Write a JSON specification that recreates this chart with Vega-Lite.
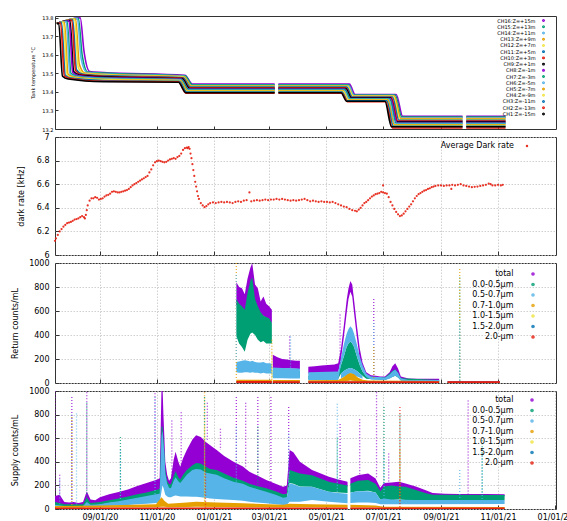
{
"$schema":"https://vega.github.io/schema/vega-lite/v6.json",
"background":"white",
"padding":{"left":11,"top":14,"right":0,"bottom":0},
"autosize":{"type":"pad"},
"config":{
 "font":"DejaVu Sans",
 "view":{"stroke":"#333","strokeWidth":1},
 "axis":{"labelFont":"DejaVu Sans","titleFont":"DejaVu Sans","labelColor":"#000","titleColor":"#000","titleFontWeight":"normal","labelFontSize":8,"titleFontSize":8,"domain":false,"tickColor":"#333","gridColor":"#c4c4c4","gridDash":[1.5,1.5],"gridWidth":0.8,"labelOverlap":false},
 "legend":{"labelFont":"DejaVu Sans","labelColor":"#000","labelFontSize":8,"padding":0,"symbolType":"circle","symbolStrokeWidth":1.2,"labelAlign":"right"}
},
"datasets":{
"temp":[
{"ch":"CH16:Z=+15m","d":"2020-07-17","v":13.77},{"ch":"CH16:Z=+15m","d":"2020-08-11","v":13.8},{"ch":"CH16:Z=+15m","d":"2020-08-15","v":13.62},{"ch":"CH16:Z=+15m","d":"2020-08-21","v":13.51},{"ch":"CH16:Z=+15m","d":"2020-09-05","v":13.505},{"ch":"CH16:Z=+15m","d":"2020-12-01","v":13.49},{"ch":"CH16:Z=+15m","d":"2020-12-09","v":13.442},{"ch":"CH16:Z=+15m","d":"2021-03-07","v":13.442},{"ch":"CH16:Z=+15m","d":"2021-03-09","v":null},{"ch":"CH16:Z=+15m","d":"2021-03-11","v":13.442},{"ch":"CH16:Z=+15m","d":"2021-05-26","v":13.442},{"ch":"CH16:Z=+15m","d":"2021-06-01","v":13.386},{"ch":"CH16:Z=+15m","d":"2021-07-15","v":13.386},{"ch":"CH16:Z=+15m","d":"2021-07-22","v":13.268},{"ch":"CH16:Z=+15m","d":"2021-09-24","v":13.268},{"ch":"CH16:Z=+15m","d":"2021-09-26","v":null},{"ch":"CH16:Z=+15m","d":"2021-09-28","v":13.268},{"ch":"CH16:Z=+15m","d":"2021-11-09","v":13.268},
{"ch":"CH15:Z=+13m","d":"2020-07-17","v":13.77},{"ch":"CH15:Z=+13m","d":"2020-08-09","v":13.798},{"ch":"CH15:Z=+13m","d":"2020-08-13","v":13.6},{"ch":"CH15:Z=+13m","d":"2020-08-19","v":13.507},{"ch":"CH15:Z=+13m","d":"2020-09-05","v":13.502},{"ch":"CH15:Z=+13m","d":"2020-12-01","v":13.487},{"ch":"CH15:Z=+13m","d":"2020-12-09","v":13.439},{"ch":"CH15:Z=+13m","d":"2021-03-07","v":13.439},{"ch":"CH15:Z=+13m","d":"2021-03-09","v":null},{"ch":"CH15:Z=+13m","d":"2021-03-11","v":13.439},{"ch":"CH15:Z=+13m","d":"2021-05-25","v":13.439},{"ch":"CH15:Z=+13m","d":"2021-05-31","v":13.383},{"ch":"CH15:Z=+13m","d":"2021-07-14","v":13.383},{"ch":"CH15:Z=+13m","d":"2021-07-21","v":13.264},{"ch":"CH15:Z=+13m","d":"2021-09-24","v":13.264},{"ch":"CH15:Z=+13m","d":"2021-09-26","v":null},{"ch":"CH15:Z=+13m","d":"2021-09-28","v":13.264},{"ch":"CH15:Z=+13m","d":"2021-11-09","v":13.264},
{"ch":"CH14:Z=+11m","d":"2020-07-17","v":13.77},{"ch":"CH14:Z=+11m","d":"2020-08-08","v":13.796},{"ch":"CH14:Z=+11m","d":"2020-08-12","v":13.58},{"ch":"CH14:Z=+11m","d":"2020-08-18","v":13.505},{"ch":"CH14:Z=+11m","d":"2020-09-05","v":13.498},{"ch":"CH14:Z=+11m","d":"2020-11-30","v":13.485},{"ch":"CH14:Z=+11m","d":"2020-12-08","v":13.435},{"ch":"CH14:Z=+11m","d":"2021-03-07","v":13.435},{"ch":"CH14:Z=+11m","d":"2021-03-09","v":null},{"ch":"CH14:Z=+11m","d":"2021-03-11","v":13.435},{"ch":"CH14:Z=+11m","d":"2021-05-25","v":13.435},{"ch":"CH14:Z=+11m","d":"2021-05-31","v":13.381},{"ch":"CH14:Z=+11m","d":"2021-07-13","v":13.381},{"ch":"CH14:Z=+11m","d":"2021-07-20","v":13.26},{"ch":"CH14:Z=+11m","d":"2021-09-24","v":13.26},{"ch":"CH14:Z=+11m","d":"2021-09-26","v":null},{"ch":"CH14:Z=+11m","d":"2021-09-28","v":13.26},{"ch":"CH14:Z=+11m","d":"2021-11-09","v":13.26},
{"ch":"CH13:Z=+9m","d":"2020-07-17","v":13.77},{"ch":"CH13:Z=+9m","d":"2020-08-06","v":13.794},{"ch":"CH13:Z=+9m","d":"2020-08-10","v":13.55},{"ch":"CH13:Z=+9m","d":"2020-08-16","v":13.502},{"ch":"CH13:Z=+9m","d":"2020-09-05","v":13.495},{"ch":"CH13:Z=+9m","d":"2020-11-30","v":13.482},{"ch":"CH13:Z=+9m","d":"2020-12-08","v":13.432},{"ch":"CH13:Z=+9m","d":"2021-03-07","v":13.432},{"ch":"CH13:Z=+9m","d":"2021-03-09","v":null},{"ch":"CH13:Z=+9m","d":"2021-03-11","v":13.432},{"ch":"CH13:Z=+9m","d":"2021-05-24","v":13.432},{"ch":"CH13:Z=+9m","d":"2021-05-30","v":13.378},{"ch":"CH13:Z=+9m","d":"2021-07-13","v":13.378},{"ch":"CH13:Z=+9m","d":"2021-07-20","v":13.256},{"ch":"CH13:Z=+9m","d":"2021-09-24","v":13.256},{"ch":"CH13:Z=+9m","d":"2021-09-26","v":null},{"ch":"CH13:Z=+9m","d":"2021-09-28","v":13.256},{"ch":"CH13:Z=+9m","d":"2021-11-09","v":13.256},
{"ch":"CH12:Z=+7m","d":"2020-07-17","v":13.77},{"ch":"CH12:Z=+7m","d":"2020-08-05","v":13.792},{"ch":"CH12:Z=+7m","d":"2020-08-09","v":13.53},{"ch":"CH12:Z=+7m","d":"2020-08-15","v":13.499},{"ch":"CH12:Z=+7m","d":"2020-09-05","v":13.492},{"ch":"CH12:Z=+7m","d":"2020-11-29","v":13.48},{"ch":"CH12:Z=+7m","d":"2020-12-07","v":13.429},{"ch":"CH12:Z=+7m","d":"2021-03-07","v":13.429},{"ch":"CH12:Z=+7m","d":"2021-03-09","v":null},{"ch":"CH12:Z=+7m","d":"2021-03-11","v":13.429},{"ch":"CH12:Z=+7m","d":"2021-05-24","v":13.429},{"ch":"CH12:Z=+7m","d":"2021-05-30","v":13.376},{"ch":"CH12:Z=+7m","d":"2021-07-12","v":13.376},{"ch":"CH12:Z=+7m","d":"2021-07-19","v":13.251},{"ch":"CH12:Z=+7m","d":"2021-09-24","v":13.251},{"ch":"CH12:Z=+7m","d":"2021-09-26","v":null},{"ch":"CH12:Z=+7m","d":"2021-09-28","v":13.251},{"ch":"CH12:Z=+7m","d":"2021-11-09","v":13.251},
{"ch":"CH11:Z=+5m","d":"2020-07-17","v":13.77},{"ch":"CH11:Z=+5m","d":"2020-08-03","v":13.79},{"ch":"CH11:Z=+5m","d":"2020-08-07","v":13.52},{"ch":"CH11:Z=+5m","d":"2020-08-13","v":13.497},{"ch":"CH11:Z=+5m","d":"2020-09-05","v":13.488},{"ch":"CH11:Z=+5m","d":"2020-11-29","v":13.477},{"ch":"CH11:Z=+5m","d":"2020-12-07","v":13.426},{"ch":"CH11:Z=+5m","d":"2021-03-07","v":13.426},{"ch":"CH11:Z=+5m","d":"2021-03-09","v":null},{"ch":"CH11:Z=+5m","d":"2021-03-11","v":13.426},{"ch":"CH11:Z=+5m","d":"2021-05-23","v":13.426},{"ch":"CH11:Z=+5m","d":"2021-05-29","v":13.373},{"ch":"CH11:Z=+5m","d":"2021-07-11","v":13.373},{"ch":"CH11:Z=+5m","d":"2021-07-18","v":13.247},{"ch":"CH11:Z=+5m","d":"2021-09-24","v":13.247},{"ch":"CH11:Z=+5m","d":"2021-09-26","v":null},{"ch":"CH11:Z=+5m","d":"2021-09-28","v":13.247},{"ch":"CH11:Z=+5m","d":"2021-11-09","v":13.247},
{"ch":"CH10:Z=+3m","d":"2020-07-17","v":13.77},{"ch":"CH10:Z=+3m","d":"2020-08-02","v":13.788},{"ch":"CH10:Z=+3m","d":"2020-08-06","v":13.515},{"ch":"CH10:Z=+3m","d":"2020-08-12","v":13.494},{"ch":"CH10:Z=+3m","d":"2020-09-05","v":13.485},{"ch":"CH10:Z=+3m","d":"2020-11-28","v":13.475},{"ch":"CH10:Z=+3m","d":"2020-12-06","v":13.422},{"ch":"CH10:Z=+3m","d":"2021-03-07","v":13.422},{"ch":"CH10:Z=+3m","d":"2021-03-09","v":null},{"ch":"CH10:Z=+3m","d":"2021-03-11","v":13.422},{"ch":"CH10:Z=+3m","d":"2021-05-22","v":13.422},{"ch":"CH10:Z=+3m","d":"2021-05-28","v":13.37},{"ch":"CH10:Z=+3m","d":"2021-07-10","v":13.37},{"ch":"CH10:Z=+3m","d":"2021-07-17","v":13.243},{"ch":"CH10:Z=+3m","d":"2021-09-24","v":13.243},{"ch":"CH10:Z=+3m","d":"2021-09-26","v":null},{"ch":"CH10:Z=+3m","d":"2021-09-28","v":13.243},{"ch":"CH10:Z=+3m","d":"2021-11-09","v":13.243},
{"ch":"CH9:Z=+1m","d":"2020-07-17","v":13.77},{"ch":"CH9:Z=+1m","d":"2020-07-31","v":13.786},{"ch":"CH9:Z=+1m","d":"2020-08-04","v":13.51},{"ch":"CH9:Z=+1m","d":"2020-08-10","v":13.491},{"ch":"CH9:Z=+1m","d":"2020-09-05","v":13.482},{"ch":"CH9:Z=+1m","d":"2020-11-28","v":13.472},{"ch":"CH9:Z=+1m","d":"2020-12-06","v":13.419},{"ch":"CH9:Z=+1m","d":"2021-03-07","v":13.419},{"ch":"CH9:Z=+1m","d":"2021-03-09","v":null},{"ch":"CH9:Z=+1m","d":"2021-03-11","v":13.419},{"ch":"CH9:Z=+1m","d":"2021-05-22","v":13.419},{"ch":"CH9:Z=+1m","d":"2021-05-28","v":13.368},{"ch":"CH9:Z=+1m","d":"2021-07-09","v":13.368},{"ch":"CH9:Z=+1m","d":"2021-07-16","v":13.239},{"ch":"CH9:Z=+1m","d":"2021-09-24","v":13.239},{"ch":"CH9:Z=+1m","d":"2021-09-26","v":null},{"ch":"CH9:Z=+1m","d":"2021-09-28","v":13.239},{"ch":"CH9:Z=+1m","d":"2021-11-09","v":13.239},
{"ch":"CH8:Z=-1m","d":"2020-07-17","v":13.77},{"ch":"CH8:Z=-1m","d":"2020-07-30","v":13.784},{"ch":"CH8:Z=-1m","d":"2020-08-03","v":13.505},{"ch":"CH8:Z=-1m","d":"2020-08-09","v":13.489},{"ch":"CH8:Z=-1m","d":"2020-09-05","v":13.478},{"ch":"CH8:Z=-1m","d":"2020-11-27","v":13.47},{"ch":"CH8:Z=-1m","d":"2020-12-05","v":13.416},{"ch":"CH8:Z=-1m","d":"2021-03-07","v":13.416},{"ch":"CH8:Z=-1m","d":"2021-03-09","v":null},{"ch":"CH8:Z=-1m","d":"2021-03-11","v":13.416},{"ch":"CH8:Z=-1m","d":"2021-05-21","v":13.416},{"ch":"CH8:Z=-1m","d":"2021-05-27","v":13.365},{"ch":"CH8:Z=-1m","d":"2021-07-09","v":13.365},{"ch":"CH8:Z=-1m","d":"2021-07-16","v":13.235},{"ch":"CH8:Z=-1m","d":"2021-09-24","v":13.235},{"ch":"CH8:Z=-1m","d":"2021-09-26","v":null},{"ch":"CH8:Z=-1m","d":"2021-09-28","v":13.235},{"ch":"CH8:Z=-1m","d":"2021-11-09","v":13.235},
{"ch":"CH7:Z=-3m","d":"2020-07-17","v":13.77},{"ch":"CH7:Z=-3m","d":"2020-07-28","v":13.782},{"ch":"CH7:Z=-3m","d":"2020-08-01","v":13.5},{"ch":"CH7:Z=-3m","d":"2020-08-07","v":13.486},{"ch":"CH7:Z=-3m","d":"2020-09-05","v":13.475},{"ch":"CH7:Z=-3m","d":"2020-11-27","v":13.467},{"ch":"CH7:Z=-3m","d":"2020-12-05","v":13.413},{"ch":"CH7:Z=-3m","d":"2021-03-07","v":13.413},{"ch":"CH7:Z=-3m","d":"2021-03-09","v":null},{"ch":"CH7:Z=-3m","d":"2021-03-11","v":13.413},{"ch":"CH7:Z=-3m","d":"2021-05-21","v":13.413},{"ch":"CH7:Z=-3m","d":"2021-05-27","v":13.363},{"ch":"CH7:Z=-3m","d":"2021-07-08","v":13.363},{"ch":"CH7:Z=-3m","d":"2021-07-15","v":13.231},{"ch":"CH7:Z=-3m","d":"2021-09-24","v":13.231},{"ch":"CH7:Z=-3m","d":"2021-09-26","v":null},{"ch":"CH7:Z=-3m","d":"2021-09-28","v":13.231},{"ch":"CH7:Z=-3m","d":"2021-11-09","v":13.231},
{"ch":"CH6:Z=-5m","d":"2020-07-17","v":13.77},{"ch":"CH6:Z=-5m","d":"2020-07-27","v":13.78},{"ch":"CH6:Z=-5m","d":"2020-07-31","v":13.5},{"ch":"CH6:Z=-5m","d":"2020-08-06","v":13.483},{"ch":"CH6:Z=-5m","d":"2020-09-05","v":13.472},{"ch":"CH6:Z=-5m","d":"2020-11-26","v":13.465},{"ch":"CH6:Z=-5m","d":"2020-12-04","v":13.409},{"ch":"CH6:Z=-5m","d":"2021-03-07","v":13.409},{"ch":"CH6:Z=-5m","d":"2021-03-09","v":null},{"ch":"CH6:Z=-5m","d":"2021-03-11","v":13.409},{"ch":"CH6:Z=-5m","d":"2021-05-20","v":13.409},{"ch":"CH6:Z=-5m","d":"2021-05-26","v":13.36},{"ch":"CH6:Z=-5m","d":"2021-07-07","v":13.36},{"ch":"CH6:Z=-5m","d":"2021-07-14","v":13.227},{"ch":"CH6:Z=-5m","d":"2021-09-24","v":13.227},{"ch":"CH6:Z=-5m","d":"2021-09-26","v":null},{"ch":"CH6:Z=-5m","d":"2021-09-28","v":13.227},{"ch":"CH6:Z=-5m","d":"2021-11-09","v":13.227},
{"ch":"CH5:Z=-7m","d":"2020-07-17","v":13.77},{"ch":"CH5:Z=-7m","d":"2020-07-25","v":13.778},{"ch":"CH5:Z=-7m","d":"2020-07-29","v":13.495},{"ch":"CH5:Z=-7m","d":"2020-08-04","v":13.481},{"ch":"CH5:Z=-7m","d":"2020-09-05","v":13.468},{"ch":"CH5:Z=-7m","d":"2020-11-26","v":13.462},{"ch":"CH5:Z=-7m","d":"2020-12-04","v":13.406},{"ch":"CH5:Z=-7m","d":"2021-03-07","v":13.406},{"ch":"CH5:Z=-7m","d":"2021-03-09","v":null},{"ch":"CH5:Z=-7m","d":"2021-03-11","v":13.406},{"ch":"CH5:Z=-7m","d":"2021-05-19","v":13.406},{"ch":"CH5:Z=-7m","d":"2021-05-25","v":13.357},{"ch":"CH5:Z=-7m","d":"2021-07-06","v":13.357},{"ch":"CH5:Z=-7m","d":"2021-07-13","v":13.223},{"ch":"CH5:Z=-7m","d":"2021-09-24","v":13.223},{"ch":"CH5:Z=-7m","d":"2021-09-26","v":null},{"ch":"CH5:Z=-7m","d":"2021-09-28","v":13.223},{"ch":"CH5:Z=-7m","d":"2021-11-09","v":13.223},
{"ch":"CH4:Z=-9m","d":"2020-07-17","v":13.77},{"ch":"CH4:Z=-9m","d":"2020-07-24","v":13.776},{"ch":"CH4:Z=-9m","d":"2020-07-28","v":13.49},{"ch":"CH4:Z=-9m","d":"2020-08-03","v":13.478},{"ch":"CH4:Z=-9m","d":"2020-09-05","v":13.465},{"ch":"CH4:Z=-9m","d":"2020-11-25","v":13.46},{"ch":"CH4:Z=-9m","d":"2020-12-03","v":13.403},{"ch":"CH4:Z=-9m","d":"2021-03-07","v":13.403},{"ch":"CH4:Z=-9m","d":"2021-03-09","v":null},{"ch":"CH4:Z=-9m","d":"2021-03-11","v":13.403},{"ch":"CH4:Z=-9m","d":"2021-05-19","v":13.403},{"ch":"CH4:Z=-9m","d":"2021-05-25","v":13.355},{"ch":"CH4:Z=-9m","d":"2021-07-05","v":13.355},{"ch":"CH4:Z=-9m","d":"2021-07-12","v":13.218},{"ch":"CH4:Z=-9m","d":"2021-09-24","v":13.218},{"ch":"CH4:Z=-9m","d":"2021-09-26","v":null},{"ch":"CH4:Z=-9m","d":"2021-09-28","v":13.218},{"ch":"CH4:Z=-9m","d":"2021-11-09","v":13.218},
{"ch":"CH3:Z=-11m","d":"2020-07-17","v":13.77},{"ch":"CH3:Z=-11m","d":"2020-07-22","v":13.774},{"ch":"CH3:Z=-11m","d":"2020-07-26","v":13.49},{"ch":"CH3:Z=-11m","d":"2020-08-01","v":13.475},{"ch":"CH3:Z=-11m","d":"2020-09-05","v":13.462},{"ch":"CH3:Z=-11m","d":"2020-11-25","v":13.457},{"ch":"CH3:Z=-11m","d":"2020-12-03","v":13.399},{"ch":"CH3:Z=-11m","d":"2021-03-07","v":13.399},{"ch":"CH3:Z=-11m","d":"2021-03-09","v":null},{"ch":"CH3:Z=-11m","d":"2021-03-11","v":13.399},{"ch":"CH3:Z=-11m","d":"2021-05-18","v":13.399},{"ch":"CH3:Z=-11m","d":"2021-05-24","v":13.352},{"ch":"CH3:Z=-11m","d":"2021-07-05","v":13.352},{"ch":"CH3:Z=-11m","d":"2021-07-12","v":13.214},{"ch":"CH3:Z=-11m","d":"2021-09-24","v":13.214},{"ch":"CH3:Z=-11m","d":"2021-09-26","v":null},{"ch":"CH3:Z=-11m","d":"2021-09-28","v":13.214},{"ch":"CH3:Z=-11m","d":"2021-11-09","v":13.214},
{"ch":"CH2:Z=-13m","d":"2020-07-17","v":13.77},{"ch":"CH2:Z=-13m","d":"2020-07-21","v":13.772},{"ch":"CH2:Z=-13m","d":"2020-07-25","v":13.485},{"ch":"CH2:Z=-13m","d":"2020-07-31","v":13.473},{"ch":"CH2:Z=-13m","d":"2020-09-05","v":13.458},{"ch":"CH2:Z=-13m","d":"2020-11-24","v":13.455},{"ch":"CH2:Z=-13m","d":"2020-12-02","v":13.393},{"ch":"CH2:Z=-13m","d":"2021-03-07","v":13.393},{"ch":"CH2:Z=-13m","d":"2021-03-09","v":null},{"ch":"CH2:Z=-13m","d":"2021-03-11","v":13.393},{"ch":"CH2:Z=-13m","d":"2021-05-18","v":13.393},{"ch":"CH2:Z=-13m","d":"2021-05-24","v":13.347},{"ch":"CH2:Z=-13m","d":"2021-07-04","v":13.347},{"ch":"CH2:Z=-13m","d":"2021-07-11","v":13.205},{"ch":"CH2:Z=-13m","d":"2021-09-24","v":13.205},{"ch":"CH2:Z=-13m","d":"2021-09-26","v":null},{"ch":"CH2:Z=-13m","d":"2021-09-28","v":13.205},{"ch":"CH2:Z=-13m","d":"2021-11-09","v":13.205},
{"ch":"CH1:Z=-15m","d":"2020-07-17","v":13.77},{"ch":"CH1:Z=-15m","d":"2020-07-19","v":13.77},{"ch":"CH1:Z=-15m","d":"2020-07-23","v":13.485},{"ch":"CH1:Z=-15m","d":"2020-07-29","v":13.47},{"ch":"CH1:Z=-15m","d":"2020-09-05","v":13.455},{"ch":"CH1:Z=-15m","d":"2020-11-24","v":13.452},{"ch":"CH1:Z=-15m","d":"2020-12-02","v":13.396},{"ch":"CH1:Z=-15m","d":"2021-03-07","v":13.396},{"ch":"CH1:Z=-15m","d":"2021-03-09","v":null},{"ch":"CH1:Z=-15m","d":"2021-03-11","v":13.396},{"ch":"CH1:Z=-15m","d":"2021-05-17","v":13.396},{"ch":"CH1:Z=-15m","d":"2021-05-23","v":13.35},{"ch":"CH1:Z=-15m","d":"2021-07-03","v":13.35},{"ch":"CH1:Z=-15m","d":"2021-07-10","v":13.212},{"ch":"CH1:Z=-15m","d":"2021-09-24","v":13.212},{"ch":"CH1:Z=-15m","d":"2021-09-26","v":null},{"ch":"CH1:Z=-15m","d":"2021-09-28","v":13.212},{"ch":"CH1:Z=-15m","d":"2021-11-09","v":13.212}
],
"dark":[
{"d":"2020-07-15","r":6.12},{"d":"2020-07-16","r":6.14},{"d":"2020-07-18","r":6.17},{"d":"2020-07-20","r":6.2},{"d":"2020-07-22","r":6.22},{"d":"2020-07-24","r":6.24},{"d":"2020-07-26","r":6.255},{"d":"2020-07-28","r":6.27},{"d":"2020-07-30","r":6.275},{"d":"2020-08-01","r":6.28},{"d":"2020-08-03","r":6.29},{"d":"2020-08-05","r":6.3},{"d":"2020-08-07","r":6.305},{"d":"2020-08-09","r":6.31},{"d":"2020-08-11","r":6.32},{"d":"2020-08-13","r":6.33},{"d":"2020-08-15","r":6.32},{"d":"2020-08-16","r":6.31},{"d":"2020-08-17","r":6.34},{"d":"2020-08-18","r":6.38},{"d":"2020-08-19","r":6.42},{"d":"2020-08-21","r":6.46},{"d":"2020-08-23","r":6.48},{"d":"2020-08-25","r":6.48},{"d":"2020-08-27","r":6.49},{"d":"2020-08-29","r":6.485},{"d":"2020-08-31","r":6.47},{"d":"2020-09-02","r":6.475},{"d":"2020-09-04","r":6.48},{"d":"2020-09-06","r":6.495},{"d":"2020-09-08","r":6.505},{"d":"2020-09-10","r":6.51},{"d":"2020-09-12","r":6.52},{"d":"2020-09-14","r":6.535},{"d":"2020-09-16","r":6.54},{"d":"2020-09-18","r":6.535},{"d":"2020-09-20","r":6.53},{"d":"2020-09-22","r":6.53},{"d":"2020-09-24","r":6.535},{"d":"2020-09-26","r":6.54},{"d":"2020-09-28","r":6.545},{"d":"2020-09-30","r":6.55},{"d":"2020-10-02","r":6.56},{"d":"2020-10-04","r":6.575},{"d":"2020-10-06","r":6.59},{"d":"2020-10-08","r":6.6},{"d":"2020-10-10","r":6.61},{"d":"2020-10-12","r":6.62},{"d":"2020-10-14","r":6.63},{"d":"2020-10-16","r":6.64},{"d":"2020-10-18","r":6.65},{"d":"2020-10-20","r":6.66},{"d":"2020-10-22","r":6.67},{"d":"2020-10-24","r":6.7},{"d":"2020-10-26","r":6.725},{"d":"2020-10-28","r":6.76},{"d":"2020-10-30","r":6.785},{"d":"2020-11-01","r":6.795},{"d":"2020-11-03","r":6.8},{"d":"2020-11-05","r":6.795},{"d":"2020-11-07","r":6.79},{"d":"2020-11-09","r":6.785},{"d":"2020-11-11","r":6.79},{"d":"2020-11-13","r":6.8},{"d":"2020-11-15","r":6.81},{"d":"2020-11-17","r":6.815},{"d":"2020-11-19","r":6.82},{"d":"2020-11-21","r":6.815},{"d":"2020-11-23","r":6.83},{"d":"2020-11-25","r":6.84},{"d":"2020-11-27","r":6.86},{"d":"2020-11-29","r":6.89},{"d":"2020-12-01","r":6.905},{"d":"2020-12-03","r":6.91},{"d":"2020-12-04","r":6.905},{"d":"2020-12-05","r":6.915},{"d":"2020-12-06","r":6.9},{"d":"2020-12-07","r":6.86},{"d":"2020-12-08","r":6.82},{"d":"2020-12-09","r":6.77},{"d":"2020-12-10","r":6.72},{"d":"2020-12-11","r":6.67},{"d":"2020-12-12","r":6.62},{"d":"2020-12-13","r":6.58},{"d":"2020-12-14","r":6.54},{"d":"2020-12-15","r":6.5},{"d":"2020-12-16","r":6.475},{"d":"2020-12-18","r":6.44},{"d":"2020-12-20","r":6.42},{"d":"2020-12-22","r":6.405},{"d":"2020-12-24","r":6.415},{"d":"2020-12-26","r":6.43},{"d":"2020-12-28","r":6.44},{"d":"2020-12-31","r":6.445},{"d":"2021-01-03","r":6.44},{"d":"2021-01-06","r":6.445},{"d":"2021-01-09","r":6.45},{"d":"2021-01-12","r":6.445},{"d":"2021-01-15","r":6.45},{"d":"2021-01-18","r":6.445},{"d":"2021-01-21","r":6.44},{"d":"2021-01-24","r":6.45},{"d":"2021-01-27","r":6.455},{"d":"2021-01-30","r":6.45},{"d":"2021-02-02","r":6.46},{"d":"2021-02-05","r":6.465},{"d":"2021-02-08","r":6.53},{"d":"2021-02-10","r":6.455},{"d":"2021-02-13","r":6.46},{"d":"2021-02-16","r":6.465},{"d":"2021-02-19","r":6.46},{"d":"2021-02-22","r":6.465},{"d":"2021-02-25","r":6.47},{"d":"2021-02-28","r":6.465},{"d":"2021-03-03","r":6.47},{"d":"2021-03-06","r":6.47},{"d":"2021-03-09","r":6.475},{"d":"2021-03-12","r":6.47},{"d":"2021-03-15","r":6.475},{"d":"2021-03-18","r":6.47},{"d":"2021-03-21","r":6.465},{"d":"2021-03-24","r":6.46},{"d":"2021-03-27","r":6.465},{"d":"2021-03-30","r":6.46},{"d":"2021-04-02","r":6.465},{"d":"2021-04-05","r":6.47},{"d":"2021-04-08","r":6.475},{"d":"2021-04-11","r":6.465},{"d":"2021-04-14","r":6.455},{"d":"2021-04-17","r":6.46},{"d":"2021-04-20","r":6.455},{"d":"2021-04-23","r":6.45},{"d":"2021-04-26","r":6.455},{"d":"2021-04-29","r":6.45},{"d":"2021-05-02","r":6.45},{"d":"2021-05-05","r":6.445},{"d":"2021-05-08","r":6.45},{"d":"2021-05-11","r":6.44},{"d":"2021-05-14","r":6.43},{"d":"2021-05-17","r":6.42},{"d":"2021-05-20","r":6.41},{"d":"2021-05-23","r":6.405},{"d":"2021-05-26","r":6.39},{"d":"2021-05-29","r":6.38},{"d":"2021-06-01","r":6.375},{"d":"2021-06-03","r":6.37},{"d":"2021-06-05","r":6.385},{"d":"2021-06-07","r":6.4},{"d":"2021-06-09","r":6.42},{"d":"2021-06-11","r":6.44},{"d":"2021-06-13","r":6.45},{"d":"2021-06-15","r":6.465},{"d":"2021-06-17","r":6.48},{"d":"2021-06-19","r":6.495},{"d":"2021-06-21","r":6.505},{"d":"2021-06-23","r":6.515},{"d":"2021-06-25","r":6.52},{"d":"2021-06-27","r":6.525},{"d":"2021-06-29","r":6.535},{"d":"2021-07-01","r":6.53},{"d":"2021-07-01","r":6.59},{"d":"2021-07-03","r":6.525},{"d":"2021-07-05","r":6.52},{"d":"2021-07-07","r":6.49},{"d":"2021-07-09","r":6.45},{"d":"2021-07-11","r":6.42},{"d":"2021-07-13","r":6.39},{"d":"2021-07-15","r":6.365},{"d":"2021-07-17","r":6.345},{"d":"2021-07-19","r":6.33},{"d":"2021-07-21","r":6.335},{"d":"2021-07-23","r":6.35},{"d":"2021-07-25","r":6.37},{"d":"2021-07-27","r":6.39},{"d":"2021-07-29","r":6.41},{"d":"2021-07-31","r":6.43},{"d":"2021-08-02","r":6.455},{"d":"2021-08-04","r":6.48},{"d":"2021-08-06","r":6.5},{"d":"2021-08-08","r":6.515},{"d":"2021-08-10","r":6.525},{"d":"2021-08-12","r":6.535},{"d":"2021-08-14","r":6.545},{"d":"2021-08-16","r":6.55},{"d":"2021-08-18","r":6.56},{"d":"2021-08-20","r":6.565},{"d":"2021-08-22","r":6.575},{"d":"2021-08-24","r":6.58},{"d":"2021-08-26","r":6.585},{"d":"2021-08-29","r":6.59},{"d":"2021-09-01","r":6.59},{"d":"2021-09-04","r":6.585},{"d":"2021-09-07","r":6.59},{"d":"2021-09-10","r":6.59},{"d":"2021-09-12","r":6.56},{"d":"2021-09-13","r":6.595},{"d":"2021-09-16","r":6.59},{"d":"2021-09-19","r":6.595},{"d":"2021-09-22","r":6.6},{"d":"2021-09-25","r":6.59},{"d":"2021-09-28","r":6.585},{"d":"2021-10-01","r":6.58},{"d":"2021-10-04","r":6.575},{"d":"2021-10-07","r":6.578},{"d":"2021-10-10","r":6.58},{"d":"2021-10-13","r":6.585},{"d":"2021-10-16","r":6.59},{"d":"2021-10-19","r":6.595},{"d":"2021-10-22","r":6.605},{"d":"2021-10-24","r":6.6},{"d":"2021-10-26","r":6.59},{"d":"2021-10-29","r":6.59},{"d":"2021-11-01","r":6.595},{"d":"2021-11-04","r":6.59},{"d":"2021-11-06","r":6.595}
],
"ret":[
{"s":"total","g":"a","d":"2021-01-25","lo":650,"hi":840},{"s":"total","g":"a","d":"2021-01-28","lo":620,"hi":800},{"s":"total","g":"a","d":"2021-01-31","lo":600,"hi":790},{"s":"total","g":"a","d":"2021-02-03","lo":560,"hi":740},{"s":"total","g":"a","d":"2021-02-06","lo":680,"hi":870},{"s":"total","g":"a","d":"2021-02-09","lo":720,"hi":960},{"s":"total","g":"a","d":"2021-02-11","lo":700,"hi":1000},{"s":"total","g":"a","d":"2021-02-14","lo":640,"hi":820},{"s":"total","g":"a","d":"2021-02-17","lo":620,"hi":790},{"s":"total","g":"a","d":"2021-02-20","lo":560,"hi":680},{"s":"total","g":"a","d":"2021-02-23","lo":560,"hi":720},{"s":"total","g":"a","d":"2021-02-26","lo":540,"hi":660},{"s":"total","g":"a","d":"2021-03-01","lo":520,"hi":640},{"s":"total","g":"a","d":"2021-03-04","lo":500,"hi":610},
{"s":"total","g":"b","d":"2021-03-05","lo":120,"hi":235},{"s":"total","g":"b","d":"2021-03-10","lo":120,"hi":215},{"s":"total","g":"b","d":"2021-03-15","lo":118,"hi":200},{"s":"total","g":"b","d":"2021-03-20","lo":120,"hi":195},{"s":"total","g":"b","d":"2021-03-25","lo":120,"hi":190},{"s":"total","g":"b","d":"2021-03-30","lo":118,"hi":185},{"s":"total","g":"b","d":"2021-04-03","lo":115,"hi":185},
{"s":"total","g":"c","d":"2021-04-12","lo":80,"hi":135},{"s":"total","g":"c","d":"2021-04-19","lo":80,"hi":140},{"s":"total","g":"c","d":"2021-04-26","lo":82,"hi":145},{"s":"total","g":"c","d":"2021-05-03","lo":85,"hi":150},{"s":"total","g":"c","d":"2021-05-10","lo":85,"hi":155},{"s":"total","g":"c","d":"2021-05-14","lo":90,"hi":165},{"s":"total","g":"c","d":"2021-05-17","lo":200,"hi":290},{"s":"total","g":"c","d":"2021-05-20","lo":380,"hi":480},{"s":"total","g":"c","d":"2021-05-23","lo":580,"hi":690},{"s":"total","g":"c","d":"2021-05-25","lo":700,"hi":790},{"s":"total","g":"c","d":"2021-05-27","lo":760,"hi":850},{"s":"total","g":"c","d":"2021-05-29","lo":720,"hi":820},{"s":"total","g":"c","d":"2021-05-31","lo":580,"hi":690},{"s":"total","g":"c","d":"2021-06-03","lo":380,"hi":480},{"s":"total","g":"c","d":"2021-06-06","lo":200,"hi":290},{"s":"total","g":"c","d":"2021-06-09","lo":110,"hi":170},{"s":"total","g":"c","d":"2021-06-13","lo":60,"hi":90},{"s":"total","g":"c","d":"2021-06-18","lo":40,"hi":65},{"s":"total","g":"c","d":"2021-06-23","lo":35,"hi":60},{"s":"total","g":"c","d":"2021-06-28","lo":35,"hi":55},{"s":"total","g":"c","d":"2021-07-03","lo":35,"hi":55},{"s":"total","g":"c","d":"2021-07-08","lo":50,"hi":90},{"s":"total","g":"c","d":"2021-07-11","lo":80,"hi":140},{"s":"total","g":"c","d":"2021-07-14","lo":100,"hi":165},{"s":"total","g":"c","d":"2021-07-17","lo":70,"hi":120},{"s":"total","g":"c","d":"2021-07-20","lo":30,"hi":55},{"s":"total","g":"c","d":"2021-07-28","lo":20,"hi":38},{"s":"total","g":"c","d":"2021-08-07","lo":18,"hi":35},{"s":"total","g":"c","d":"2021-08-17","lo":18,"hi":35},{"s":"total","g":"c","d":"2021-08-30","lo":18,"hi":35},
{"s":"total","g":"d","d":"2021-09-08","lo":4,"hi":16},{"s":"total","g":"d","d":"2021-11-03","lo":4,"hi":16},
{"s":"0.0-0.5µm","g":"a","d":"2021-01-25","lo":390,"hi":700},{"s":"0.0-0.5µm","g":"a","d":"2021-01-28","lo":330,"hi":660},{"s":"0.0-0.5µm","g":"a","d":"2021-01-31","lo":300,"hi":640},{"s":"0.0-0.5µm","g":"a","d":"2021-02-03","lo":260,"hi":610},{"s":"0.0-0.5µm","g":"a","d":"2021-02-06","lo":360,"hi":750},{"s":"0.0-0.5µm","g":"a","d":"2021-02-09","lo":410,"hi":850},{"s":"0.0-0.5µm","g":"a","d":"2021-02-11","lo":420,"hi":880},{"s":"0.0-0.5µm","g":"a","d":"2021-02-14","lo":400,"hi":700},{"s":"0.0-0.5µm","g":"a","d":"2021-02-17","lo":360,"hi":640},{"s":"0.0-0.5µm","g":"a","d":"2021-02-20","lo":340,"hi":590},{"s":"0.0-0.5µm","g":"a","d":"2021-02-23","lo":350,"hi":560},{"s":"0.0-0.5µm","g":"a","d":"2021-02-26","lo":330,"hi":550},{"s":"0.0-0.5µm","g":"a","d":"2021-03-01","lo":330,"hi":540},{"s":"0.0-0.5µm","g":"a","d":"2021-03-04","lo":330,"hi":500},
{"s":"0.0-0.5µm","g":"b","d":"2021-03-05","lo":50,"hi":110},{"s":"0.0-0.5µm","g":"b","d":"2021-04-03","lo":45,"hi":100},
{"s":"0.0-0.5µm","g":"c","d":"2021-04-12","lo":30,"hi":60},{"s":"0.0-0.5µm","g":"c","d":"2021-05-14","lo":35,"hi":70},{"s":"0.0-0.5µm","g":"c","d":"2021-05-17","lo":80,"hi":150},{"s":"0.0-0.5µm","g":"c","d":"2021-05-20","lo":100,"hi":220},{"s":"0.0-0.5µm","g":"c","d":"2021-05-23","lo":115,"hi":300},{"s":"0.0-0.5µm","g":"c","d":"2021-05-25","lo":120,"hi":330},{"s":"0.0-0.5µm","g":"c","d":"2021-05-27","lo":125,"hi":345},{"s":"0.0-0.5µm","g":"c","d":"2021-05-29","lo":120,"hi":330},{"s":"0.0-0.5µm","g":"c","d":"2021-05-31","lo":115,"hi":300},{"s":"0.0-0.5µm","g":"c","d":"2021-06-03","lo":100,"hi":220},{"s":"0.0-0.5µm","g":"c","d":"2021-06-06","lo":80,"hi":150},{"s":"0.0-0.5µm","g":"c","d":"2021-06-09","lo":60,"hi":95},{"s":"0.0-0.5µm","g":"c","d":"2021-06-13","lo":35,"hi":55},{"s":"0.0-0.5µm","g":"c","d":"2021-07-03","lo":25,"hi":45},{"s":"0.0-0.5µm","g":"c","d":"2021-07-11","lo":50,"hi":100},{"s":"0.0-0.5µm","g":"c","d":"2021-07-14","lo":60,"hi":115},{"s":"0.0-0.5µm","g":"c","d":"2021-07-17","lo":45,"hi":85},{"s":"0.0-0.5µm","g":"c","d":"2021-07-20","lo":20,"hi":40},{"s":"0.0-0.5µm","g":"c","d":"2021-08-30","lo":12,"hi":25},
{"s":"0.0-0.5µm","g":"d","d":"2021-09-08","lo":2,"hi":10},{"s":"0.0-0.5µm","g":"d","d":"2021-11-03","lo":2,"hi":10},
{"s":"0.5-0.7µm","g":"a","d":"2021-01-25","lo":90,"hi":175},{"s":"0.5-0.7µm","g":"a","d":"2021-01-28","lo":85,"hi":180},{"s":"0.5-0.7µm","g":"a","d":"2021-01-31","lo":85,"hi":185},{"s":"0.5-0.7µm","g":"a","d":"2021-02-03","lo":90,"hi":190},{"s":"0.5-0.7µm","g":"a","d":"2021-02-06","lo":90,"hi":185},{"s":"0.5-0.7µm","g":"a","d":"2021-02-09","lo":85,"hi":180},{"s":"0.5-0.7µm","g":"a","d":"2021-02-11","lo":90,"hi":185},{"s":"0.5-0.7µm","g":"a","d":"2021-02-14","lo":85,"hi":175},{"s":"0.5-0.7µm","g":"a","d":"2021-02-17","lo":85,"hi":170},{"s":"0.5-0.7µm","g":"a","d":"2021-02-20","lo":80,"hi":170},{"s":"0.5-0.7µm","g":"a","d":"2021-02-23","lo":85,"hi":175},{"s":"0.5-0.7µm","g":"a","d":"2021-02-26","lo":80,"hi":165},{"s":"0.5-0.7µm","g":"a","d":"2021-03-01","lo":80,"hi":165},{"s":"0.5-0.7µm","g":"a","d":"2021-03-04","lo":80,"hi":160},
{"s":"0.5-0.7µm","g":"b","d":"2021-03-05","lo":40,"hi":130},{"s":"0.5-0.7µm","g":"b","d":"2021-03-15","lo":40,"hi":125},{"s":"0.5-0.7µm","g":"b","d":"2021-03-25","lo":38,"hi":122},{"s":"0.5-0.7µm","g":"b","d":"2021-04-03","lo":37,"hi":120},
{"s":"0.5-0.7µm","g":"c","d":"2021-04-12","lo":22,"hi":90},{"s":"0.5-0.7µm","g":"c","d":"2021-05-14","lo":25,"hi":95},{"s":"0.5-0.7µm","g":"c","d":"2021-05-17","lo":150,"hi":210},{"s":"0.5-0.7µm","g":"c","d":"2021-05-20","lo":220,"hi":320},{"s":"0.5-0.7µm","g":"c","d":"2021-05-23","lo":300,"hi":410},{"s":"0.5-0.7µm","g":"c","d":"2021-05-25","lo":330,"hi":450},{"s":"0.5-0.7µm","g":"c","d":"2021-05-27","lo":345,"hi":472},{"s":"0.5-0.7µm","g":"c","d":"2021-05-29","lo":330,"hi":455},{"s":"0.5-0.7µm","g":"c","d":"2021-05-31","lo":300,"hi":410},{"s":"0.5-0.7µm","g":"c","d":"2021-06-03","lo":220,"hi":320},{"s":"0.5-0.7µm","g":"c","d":"2021-06-06","lo":150,"hi":220},{"s":"0.5-0.7µm","g":"c","d":"2021-06-09","lo":95,"hi":150},{"s":"0.5-0.7µm","g":"c","d":"2021-06-13","lo":50,"hi":80},{"s":"0.5-0.7µm","g":"c","d":"2021-06-18","lo":30,"hi":55},{"s":"0.5-0.7µm","g":"c","d":"2021-07-03","lo":25,"hi":45},{"s":"0.5-0.7µm","g":"c","d":"2021-07-08","lo":35,"hi":70},{"s":"0.5-0.7µm","g":"c","d":"2021-07-11","lo":50,"hi":95},{"s":"0.5-0.7µm","g":"c","d":"2021-07-14","lo":60,"hi":110},{"s":"0.5-0.7µm","g":"c","d":"2021-07-17","lo":45,"hi":85},{"s":"0.5-0.7µm","g":"c","d":"2021-07-20","lo":20,"hi":40},{"s":"0.5-0.7µm","g":"c","d":"2021-07-28","lo":12,"hi":25},{"s":"0.5-0.7µm","g":"c","d":"2021-08-30","lo":12,"hi":25},
{"s":"0.5-0.7µm","g":"e","d":"2021-05-17","lo":40,"hi":80},{"s":"0.5-0.7µm","g":"e","d":"2021-05-20","lo":50,"hi":100},{"s":"0.5-0.7µm","g":"e","d":"2021-05-23","lo":60,"hi":115},{"s":"0.5-0.7µm","g":"e","d":"2021-05-25","lo":70,"hi":120},{"s":"0.5-0.7µm","g":"e","d":"2021-05-27","lo":80,"hi":125},{"s":"0.5-0.7µm","g":"e","d":"2021-05-29","lo":75,"hi":120},{"s":"0.5-0.7µm","g":"e","d":"2021-05-31","lo":65,"hi":115},{"s":"0.5-0.7µm","g":"e","d":"2021-06-03","lo":55,"hi":100},{"s":"0.5-0.7µm","g":"e","d":"2021-06-06","lo":45,"hi":80},{"s":"0.5-0.7µm","g":"e","d":"2021-06-09","lo":35,"hi":60},
{"s":"0.5-0.7µm","g":"d","d":"2021-09-08","lo":2,"hi":10},{"s":"0.5-0.7µm","g":"d","d":"2021-11-03","lo":2,"hi":10},
{"s":"0.7-1.0µm","g":"a","d":"2021-01-25","lo":12,"hi":28},{"s":"0.7-1.0µm","g":"a","d":"2021-03-04","lo":12,"hi":28},{"s":"0.7-1.0µm","g":"b","d":"2021-03-05","lo":10,"hi":25},{"s":"0.7-1.0µm","g":"b","d":"2021-04-03","lo":10,"hi":25},{"s":"0.7-1.0µm","g":"c","d":"2021-04-12","lo":8,"hi":22},{"s":"0.7-1.0µm","g":"c","d":"2021-05-14","lo":8,"hi":24},{"s":"0.7-1.0µm","g":"c","d":"2021-05-20","lo":12,"hi":50},{"s":"0.7-1.0µm","g":"c","d":"2021-05-24","lo":16,"hi":72},{"s":"0.7-1.0µm","g":"c","d":"2021-05-27","lo":20,"hi":84},{"s":"0.7-1.0µm","g":"c","d":"2021-05-31","lo":16,"hi":72},{"s":"0.7-1.0µm","g":"c","d":"2021-06-04","lo":12,"hi":45},{"s":"0.7-1.0µm","g":"c","d":"2021-06-09","lo":10,"hi":28},{"s":"0.7-1.0µm","g":"c","d":"2021-06-15","lo":8,"hi":20},{"s":"0.7-1.0µm","g":"c","d":"2021-08-30","lo":6,"hi":16},{"s":"0.7-1.0µm","g":"d","d":"2021-09-08","lo":3,"hi":10},{"s":"0.7-1.0µm","g":"d","d":"2021-11-03","lo":3,"hi":10},
{"s":"1.0-1.5µm","g":"a","d":"2021-01-25","lo":5,"hi":14},{"s":"1.0-1.5µm","g":"a","d":"2021-03-04","lo":5,"hi":14},{"s":"1.0-1.5µm","g":"b","d":"2021-03-05","lo":5,"hi":12},{"s":"1.0-1.5µm","g":"b","d":"2021-04-03","lo":5,"hi":12},{"s":"1.0-1.5µm","g":"c","d":"2021-04-12","lo":4,"hi":12},{"s":"1.0-1.5µm","g":"c","d":"2021-08-30","lo":4,"hi":12},{"s":"1.0-1.5µm","g":"d","d":"2021-09-08","lo":2,"hi":8},{"s":"1.0-1.5µm","g":"d","d":"2021-11-03","lo":2,"hi":8},
{"s":"1.5-2.0µm","g":"a","d":"2021-01-25","lo":3,"hi":10},{"s":"1.5-2.0µm","g":"a","d":"2021-03-04","lo":3,"hi":10},{"s":"1.5-2.0µm","g":"b","d":"2021-03-05","lo":3,"hi":10},{"s":"1.5-2.0µm","g":"b","d":"2021-04-03","lo":3,"hi":10},{"s":"1.5-2.0µm","g":"c","d":"2021-04-12","lo":3,"hi":10},{"s":"1.5-2.0µm","g":"c","d":"2021-08-30","lo":3,"hi":10},{"s":"1.5-2.0µm","g":"d","d":"2021-09-08","lo":2,"hi":8},{"s":"1.5-2.0µm","g":"d","d":"2021-11-03","lo":2,"hi":8},
{"s":"2.0-µm","g":"a","d":"2021-01-25","lo":0,"hi":16},{"s":"2.0-µm","g":"a","d":"2021-03-04","lo":0,"hi":16},{"s":"2.0-µm","g":"b","d":"2021-03-05","lo":0,"hi":15},{"s":"2.0-µm","g":"b","d":"2021-04-03","lo":0,"hi":15},{"s":"2.0-µm","g":"c","d":"2021-04-12","lo":0,"hi":14},{"s":"2.0-µm","g":"c","d":"2021-08-30","lo":0,"hi":14},{"s":"2.0-µm","g":"d","d":"2021-09-08","lo":0,"hi":14},{"s":"2.0-µm","g":"d","d":"2021-11-03","lo":0,"hi":14}
],
"retSpk":[
{"s":"0.7-1.0µm","d":"2021-01-25","lo":30,"hi":1000},{"s":"0.5-0.7µm","d":"2021-01-25","lo":190,"hi":900},{"s":"0.7-1.0µm","d":"2021-03-04","lo":28,"hi":360},{"s":"1.0-1.5µm","d":"2021-03-04","lo":20,"hi":250},{"s":"total","d":"2021-03-23","lo":190,"hi":388},{"s":"0.5-0.7µm","d":"2021-03-24","lo":120,"hi":388},{"s":"total","d":"2021-05-16","lo":165,"hi":570},{"s":"total","d":"2021-06-21","lo":60,"hi":700},{"s":"0.5-0.7µm","d":"2021-06-21","lo":45,"hi":500},{"s":"0.7-1.0µm","d":"2021-06-21","lo":20,"hi":300},{"s":"0.0-0.5µm","d":"2021-09-21","lo":15,"hi":880},{"s":"0.7-1.0µm","d":"2021-09-21","lo":20,"hi":950},{"s":"0.5-0.7µm","d":"2021-09-21","lo":15,"hi":500}
],
"sup":[
{"s":"total","g":"a","d":"2020-07-15","lo":40,"hi":110},{"s":"total","g":"a","d":"2020-07-20","lo":40,"hi":120},{"s":"total","g":"a","d":"2020-07-25","lo":30,"hi":60},{"s":"total","g":"a","d":"2020-07-30","lo":28,"hi":55},{"s":"total","g":"a","d":"2020-08-04","lo":28,"hi":60},{"s":"total","g":"a","d":"2020-08-09","lo":25,"hi":50},{"s":"total","g":"a","d":"2020-08-14","lo":30,"hi":60},{"s":"total","g":"a","d":"2020-08-18","lo":60,"hi":150},{"s":"total","g":"a","d":"2020-08-22","lo":40,"hi":80},{"s":"total","g":"a","d":"2020-08-27","lo":45,"hi":75},{"s":"total","g":"a","d":"2020-09-01","lo":50,"hi":100},{"s":"total","g":"a","d":"2020-09-11","lo":65,"hi":125},{"s":"total","g":"a","d":"2020-09-21","lo":80,"hi":145},{"s":"total","g":"a","d":"2020-10-01","lo":95,"hi":165},{"s":"total","g":"a","d":"2020-10-11","lo":115,"hi":195},{"s":"total","g":"a","d":"2020-10-21","lo":130,"hi":220},{"s":"total","g":"a","d":"2020-10-31","lo":150,"hi":245},{"s":"total","g":"a","d":"2020-11-04","lo":160,"hi":260},{"s":"total","g":"a","d":"2020-11-06","lo":300,"hi":1050},{"s":"total","g":"a","d":"2020-11-07","lo":500,"hi":1050},{"s":"total","g":"a","d":"2020-11-08","lo":450,"hi":800},{"s":"total","g":"a","d":"2020-11-09","lo":330,"hi":611},{"s":"total","g":"a","d":"2020-11-10","lo":280,"hi":400},{"s":"total","g":"a","d":"2020-11-12","lo":220,"hi":290},{"s":"total","g":"a","d":"2020-11-14","lo":190,"hi":240},{"s":"total","g":"a","d":"2020-11-16","lo":190,"hi":260},{"s":"total","g":"a","d":"2020-11-19","lo":260,"hi":420},{"s":"total","g":"a","d":"2020-11-21","lo":300,"hi":485},{"s":"total","g":"a","d":"2020-11-24","lo":250,"hi":400},{"s":"total","g":"a","d":"2020-11-26","lo":240,"hi":358},{"s":"total","g":"a","d":"2020-11-29","lo":270,"hi":430},{"s":"total","g":"a","d":"2020-12-03","lo":310,"hi":500},{"s":"total","g":"a","d":"2020-12-09","lo":350,"hi":590},{"s":"total","g":"a","d":"2020-12-13","lo":370,"hi":625},{"s":"total","g":"a","d":"2020-12-18","lo":365,"hi":610},{"s":"total","g":"a","d":"2020-12-23","lo":340,"hi":570},{"s":"total","g":"a","d":"2020-12-28","lo":320,"hi":540},{"s":"total","g":"a","d":"2021-01-04","lo":310,"hi":500},{"s":"total","g":"a","d":"2021-01-12","lo":280,"hi":450},{"s":"total","g":"a","d":"2021-01-22","lo":250,"hi":400},{"s":"total","g":"a","d":"2021-02-01","lo":225,"hi":360},{"s":"total","g":"a","d":"2021-02-08","lo":205,"hi":315},{"s":"total","g":"a","d":"2021-02-16","lo":185,"hi":285},{"s":"total","g":"a","d":"2021-02-26","lo":165,"hi":245},{"s":"total","g":"a","d":"2021-03-08","lo":140,"hi":215},{"s":"total","g":"a","d":"2021-03-16","lo":120,"hi":189},{"s":"total","g":"a","d":"2021-03-20","lo":125,"hi":200},{"s":"total","g":"a","d":"2021-03-23","lo":320,"hi":499},{"s":"total","g":"a","d":"2021-03-27","lo":310,"hi":480},{"s":"total","g":"a","d":"2021-04-03","lo":290,"hi":400},{"s":"total","g":"a","d":"2021-04-16","lo":277,"hi":330},{"s":"total","g":"a","d":"2021-05-04","lo":221,"hi":273},{"s":"total","g":"a","d":"2021-05-14","lo":205,"hi":250},{"s":"total","g":"a","d":"2021-05-24","lo":190,"hi":231},
{"s":"total","g":"b","d":"2021-05-27","lo":205,"hi":260},{"s":"total","g":"b","d":"2021-06-04","lo":230,"hi":287},{"s":"total","g":"b","d":"2021-06-15","lo":235,"hi":301},{"s":"total","g":"b","d":"2021-06-23","lo":205,"hi":259},{"s":"total","g":"b","d":"2021-06-28","lo":140,"hi":180},{"s":"total","g":"b","d":"2021-07-02","lo":180,"hi":220},{"s":"total","g":"b","d":"2021-07-10","lo":190,"hi":225},{"s":"total","g":"b","d":"2021-07-18","lo":180,"hi":230},{"s":"total","g":"b","d":"2021-07-25","lo":180,"hi":217},{"s":"total","g":"b","d":"2021-08-05","lo":150,"hi":190},{"s":"total","g":"b","d":"2021-08-15","lo":125,"hi":160},{"s":"total","g":"b","d":"2021-08-23","lo":110,"hi":135},{"s":"total","g":"b","d":"2021-09-05","lo":108,"hi":130},{"s":"total","g":"b","d":"2021-09-20","lo":108,"hi":128},{"s":"total","g":"b","d":"2021-10-05","lo":108,"hi":127},{"s":"total","g":"b","d":"2021-10-20","lo":108,"hi":127},{"s":"total","g":"b","d":"2021-11-08","lo":108,"hi":125},
{"s":"0.0-0.5µm","g":"a","d":"2020-07-15","lo":30,"hi":60},{"s":"0.0-0.5µm","g":"a","d":"2020-07-25","lo":20,"hi":40},{"s":"0.0-0.5µm","g":"a","d":"2020-08-14","lo":20,"hi":40},{"s":"0.0-0.5µm","g":"a","d":"2020-08-18","lo":50,"hi":100},{"s":"0.0-0.5µm","g":"a","d":"2020-08-22","lo":30,"hi":50},{"s":"0.0-0.5µm","g":"a","d":"2020-09-01","lo":35,"hi":60},{"s":"0.0-0.5µm","g":"a","d":"2020-09-11","lo":50,"hi":75},{"s":"0.0-0.5µm","g":"a","d":"2020-09-21","lo":60,"hi":90},{"s":"0.0-0.5µm","g":"a","d":"2020-10-01","lo":70,"hi":105},{"s":"0.0-0.5µm","g":"a","d":"2020-10-11","lo":85,"hi":125},{"s":"0.0-0.5µm","g":"a","d":"2020-10-21","lo":95,"hi":140},{"s":"0.0-0.5µm","g":"a","d":"2020-10-31","lo":110,"hi":160},{"s":"0.0-0.5µm","g":"a","d":"2020-11-04","lo":115,"hi":170},{"s":"0.0-0.5µm","g":"a","d":"2020-11-06","lo":250,"hi":700},{"s":"0.0-0.5µm","g":"a","d":"2020-11-07","lo":300,"hi":700},{"s":"0.0-0.5µm","g":"a","d":"2020-11-08","lo":280,"hi":600},{"s":"0.0-0.5µm","g":"a","d":"2020-11-09","lo":220,"hi":480},{"s":"0.0-0.5µm","g":"a","d":"2020-11-10","lo":190,"hi":330},{"s":"0.0-0.5µm","g":"a","d":"2020-11-12","lo":160,"hi":240},{"s":"0.0-0.5µm","g":"a","d":"2020-11-14","lo":150,"hi":210},{"s":"0.0-0.5µm","g":"a","d":"2020-11-16","lo":150,"hi":210},{"s":"0.0-0.5µm","g":"a","d":"2020-11-19","lo":200,"hi":280},{"s":"0.0-0.5µm","g":"a","d":"2020-11-21","lo":230,"hi":320},{"s":"0.0-0.5µm","g":"a","d":"2020-11-24","lo":200,"hi":270},{"s":"0.0-0.5µm","g":"a","d":"2020-11-26","lo":190,"hi":250},{"s":"0.0-0.5µm","g":"a","d":"2020-11-29","lo":210,"hi":290},{"s":"0.0-0.5µm","g":"a","d":"2020-12-03","lo":240,"hi":330},{"s":"0.0-0.5µm","g":"a","d":"2020-12-09","lo":270,"hi":370},{"s":"0.0-0.5µm","g":"a","d":"2020-12-13","lo":280,"hi":390},{"s":"0.0-0.5µm","g":"a","d":"2020-12-18","lo":275,"hi":385},{"s":"0.0-0.5µm","g":"a","d":"2020-12-23","lo":260,"hi":360},{"s":"0.0-0.5µm","g":"a","d":"2020-12-28","lo":245,"hi":340},{"s":"0.0-0.5µm","g":"a","d":"2021-01-04","lo":235,"hi":330},{"s":"0.0-0.5µm","g":"a","d":"2021-01-12","lo":220,"hi":300},{"s":"0.0-0.5µm","g":"a","d":"2021-01-22","lo":200,"hi":265},{"s":"0.0-0.5µm","g":"a","d":"2021-02-01","lo":180,"hi":240},{"s":"0.0-0.5µm","g":"a","d":"2021-02-08","lo":165,"hi":215},{"s":"0.0-0.5µm","g":"a","d":"2021-02-16","lo":150,"hi":195},{"s":"0.0-0.5µm","g":"a","d":"2021-02-26","lo":130,"hi":175},{"s":"0.0-0.5µm","g":"a","d":"2021-03-08","lo":110,"hi":150},{"s":"0.0-0.5µm","g":"a","d":"2021-03-16","lo":90,"hi":125},{"s":"0.0-0.5µm","g":"a","d":"2021-03-20","lo":95,"hi":130},{"s":"0.0-0.5µm","g":"a","d":"2021-03-23","lo":220,"hi":330},{"s":"0.0-0.5µm","g":"a","d":"2021-03-27","lo":215,"hi":320},{"s":"0.0-0.5µm","g":"a","d":"2021-04-03","lo":190,"hi":300},{"s":"0.0-0.5µm","g":"a","d":"2021-04-16","lo":189,"hi":287},{"s":"0.0-0.5µm","g":"a","d":"2021-05-04","lo":146,"hi":231},{"s":"0.0-0.5µm","g":"a","d":"2021-05-14","lo":140,"hi":215},{"s":"0.0-0.5µm","g":"a","d":"2021-05-24","lo":135,"hi":200},
{"s":"0.0-0.5µm","g":"b","d":"2021-05-27","lo":140,"hi":215},{"s":"0.0-0.5µm","g":"b","d":"2021-06-04","lo":150,"hi":240},{"s":"0.0-0.5µm","g":"b","d":"2021-06-15","lo":155,"hi":245},{"s":"0.0-0.5µm","g":"b","d":"2021-06-23","lo":140,"hi":215},{"s":"0.0-0.5µm","g":"b","d":"2021-06-28","lo":80,"hi":150},{"s":"0.0-0.5µm","g":"b","d":"2021-07-02","lo":76,"hi":190},{"s":"0.0-0.5µm","g":"b","d":"2021-07-10","lo":76,"hi":200},{"s":"0.0-0.5µm","g":"b","d":"2021-07-18","lo":80,"hi":190},{"s":"0.0-0.5µm","g":"b","d":"2021-07-25","lo":76,"hi":189},{"s":"0.0-0.5µm","g":"b","d":"2021-08-05","lo":76,"hi":160},{"s":"0.0-0.5µm","g":"b","d":"2021-08-15","lo":76,"hi":135},{"s":"0.0-0.5µm","g":"b","d":"2021-08-23","lo":76,"hi":120},{"s":"0.0-0.5µm","g":"b","d":"2021-11-08","lo":76,"hi":118},
{"s":"0.5-0.7µm","g":"a","d":"2020-07-15","lo":15,"hi":35},{"s":"0.5-0.7µm","g":"a","d":"2020-07-25","lo":10,"hi":25},{"s":"0.5-0.7µm","g":"a","d":"2020-08-14","lo":10,"hi":25},{"s":"0.5-0.7µm","g":"a","d":"2020-08-18","lo":25,"hi":60},{"s":"0.5-0.7µm","g":"a","d":"2020-08-22","lo":15,"hi":35},{"s":"0.5-0.7µm","g":"a","d":"2020-09-01","lo":18,"hi":40},{"s":"0.5-0.7µm","g":"a","d":"2020-09-11","lo":25,"hi":55},{"s":"0.5-0.7µm","g":"a","d":"2020-09-21","lo":30,"hi":65},{"s":"0.5-0.7µm","g":"a","d":"2020-10-01","lo":34,"hi":80},{"s":"0.5-0.7µm","g":"a","d":"2020-10-11","lo":40,"hi":95},{"s":"0.5-0.7µm","g":"a","d":"2020-10-21","lo":45,"hi":110},{"s":"0.5-0.7µm","g":"a","d":"2020-10-31","lo":50,"hi":125},{"s":"0.5-0.7µm","g":"a","d":"2020-11-04","lo":55,"hi":130},{"s":"0.5-0.7µm","g":"a","d":"2020-11-06","lo":150,"hi":620},{"s":"0.5-0.7µm","g":"a","d":"2020-11-07","lo":200,"hi":660},{"s":"0.5-0.7µm","g":"a","d":"2020-11-08","lo":180,"hi":560},{"s":"0.5-0.7µm","g":"a","d":"2020-11-09","lo":150,"hi":470},{"s":"0.5-0.7µm","g":"a","d":"2020-11-10","lo":120,"hi":301},{"s":"0.5-0.7µm","g":"a","d":"2020-11-12","lo":105,"hi":217},{"s":"0.5-0.7µm","g":"a","d":"2020-11-14","lo":100,"hi":180},{"s":"0.5-0.7µm","g":"a","d":"2020-11-16","lo":100,"hi":175},{"s":"0.5-0.7µm","g":"a","d":"2020-11-19","lo":110,"hi":240},{"s":"0.5-0.7µm","g":"a","d":"2020-11-21","lo":115,"hi":270},{"s":"0.5-0.7µm","g":"a","d":"2020-11-24","lo":110,"hi":235},{"s":"0.5-0.7µm","g":"a","d":"2020-11-26","lo":105,"hi":220},{"s":"0.5-0.7µm","g":"a","d":"2020-11-29","lo":105,"hi":250},{"s":"0.5-0.7µm","g":"a","d":"2020-12-03","lo":105,"hi":290},{"s":"0.5-0.7µm","g":"a","d":"2020-12-09","lo":104,"hi":330},{"s":"0.5-0.7µm","g":"a","d":"2020-12-13","lo":104,"hi":340},{"s":"0.5-0.7µm","g":"a","d":"2020-12-18","lo":100,"hi":335},{"s":"0.5-0.7µm","g":"a","d":"2020-12-23","lo":95,"hi":310},{"s":"0.5-0.7µm","g":"a","d":"2020-12-28","lo":90,"hi":300},{"s":"0.5-0.7µm","g":"a","d":"2021-01-04","lo":85,"hi":290},{"s":"0.5-0.7µm","g":"a","d":"2021-01-12","lo":80,"hi":260},{"s":"0.5-0.7µm","g":"a","d":"2021-01-22","lo":76,"hi":231},{"s":"0.5-0.7µm","g":"a","d":"2021-02-01","lo":70,"hi":215},{"s":"0.5-0.7µm","g":"a","d":"2021-02-08","lo":62,"hi":189},{"s":"0.5-0.7µm","g":"a","d":"2021-02-16","lo":55,"hi":170},{"s":"0.5-0.7µm","g":"a","d":"2021-02-26","lo":48,"hi":146},{"s":"0.5-0.7µm","g":"a","d":"2021-03-08","lo":40,"hi":120},{"s":"0.5-0.7µm","g":"a","d":"2021-03-16","lo":34,"hi":95},{"s":"0.5-0.7µm","g":"a","d":"2021-03-20","lo":36,"hi":100},{"s":"0.5-0.7µm","g":"a","d":"2021-03-23","lo":62,"hi":217},{"s":"0.5-0.7µm","g":"a","d":"2021-03-27","lo":62,"hi":210},{"s":"0.5-0.7µm","g":"a","d":"2021-04-03","lo":62,"hi":189},{"s":"0.5-0.7µm","g":"a","d":"2021-04-16","lo":76,"hi":189},{"s":"0.5-0.7µm","g":"a","d":"2021-05-04","lo":62,"hi":146},{"s":"0.5-0.7µm","g":"a","d":"2021-05-14","lo":55,"hi":135},{"s":"0.5-0.7µm","g":"a","d":"2021-05-24","lo":48,"hi":130},
{"s":"0.5-0.7µm","g":"b","d":"2021-05-27","lo":50,"hi":140},{"s":"0.5-0.7µm","g":"b","d":"2021-06-04","lo":55,"hi":150},{"s":"0.5-0.7µm","g":"b","d":"2021-06-15","lo":55,"hi":150},{"s":"0.5-0.7µm","g":"b","d":"2021-06-23","lo":50,"hi":140},{"s":"0.5-0.7µm","g":"b","d":"2021-06-28","lo":40,"hi":80},{"s":"0.5-0.7µm","g":"b","d":"2021-07-02","lo":40,"hi":90},{"s":"0.5-0.7µm","g":"b","d":"2021-07-10","lo":40,"hi":80},{"s":"0.5-0.7µm","g":"b","d":"2021-08-05","lo":40,"hi":76},{"s":"0.5-0.7µm","g":"b","d":"2021-11-08","lo":42,"hi":76},
{"s":"0.7-1.0µm","g":"a","d":"2020-07-15","lo":10,"hi":25},{"s":"0.7-1.0µm","g":"a","d":"2020-09-01","lo":12,"hi":30},{"s":"0.7-1.0µm","g":"a","d":"2020-10-31","lo":14,"hi":40},{"s":"0.7-1.0µm","g":"a","d":"2020-11-06","lo":20,"hi":100},{"s":"0.7-1.0µm","g":"a","d":"2020-11-09","lo":20,"hi":70},{"s":"0.7-1.0µm","g":"a","d":"2020-11-13","lo":15,"hi":45},{"s":"0.7-1.0µm","g":"a","d":"2020-12-03","lo":18,"hi":55},{"s":"0.7-1.0µm","g":"a","d":"2020-12-13","lo":20,"hi":62},{"s":"0.7-1.0µm","g":"a","d":"2021-01-04","lo":18,"hi":55},{"s":"0.7-1.0µm","g":"a","d":"2021-02-01","lo":15,"hi":48},{"s":"0.7-1.0µm","g":"a","d":"2021-03-16","lo":12,"hi":35},{"s":"0.7-1.0µm","g":"a","d":"2021-03-23","lo":15,"hi":45},{"s":"0.7-1.0µm","g":"a","d":"2021-04-16","lo":14,"hi":40},{"s":"0.7-1.0µm","g":"a","d":"2021-05-24","lo":12,"hi":35},
{"s":"0.7-1.0µm","g":"b","d":"2021-05-27","lo":12,"hi":35},{"s":"0.7-1.0µm","g":"b","d":"2021-06-23","lo":12,"hi":30},{"s":"0.7-1.0µm","g":"b","d":"2021-07-02","lo":8,"hi":20},{"s":"0.7-1.0µm","g":"b","d":"2021-11-08","lo":8,"hi":18},
{"s":"1.0-1.5µm","g":"a","d":"2020-07-15","lo":4,"hi":10},{"s":"1.0-1.5µm","g":"a","d":"2021-05-24","lo":4,"hi":10},{"s":"1.0-1.5µm","g":"b","d":"2021-05-27","lo":4,"hi":10},{"s":"1.0-1.5µm","g":"b","d":"2021-11-08","lo":4,"hi":10},
{"s":"1.5-2.0µm","g":"a","d":"2020-07-15","lo":2,"hi":8},{"s":"1.5-2.0µm","g":"a","d":"2021-05-24","lo":2,"hi":8},{"s":"1.5-2.0µm","g":"b","d":"2021-05-27","lo":2,"hi":8},{"s":"1.5-2.0µm","g":"b","d":"2021-11-08","lo":2,"hi":8},
{"s":"2.0-µm","g":"a","d":"2020-07-15","lo":0,"hi":12},{"s":"2.0-µm","g":"a","d":"2021-05-24","lo":0,"hi":12},{"s":"2.0-µm","g":"b","d":"2021-05-27","lo":0,"hi":12},{"s":"2.0-µm","g":"b","d":"2021-11-08","lo":0,"hi":12}
],
"supSpk":[
{"s":"total","d":"2020-07-15","lo":150,"hi":1000},{"s":"total","d":"2020-07-20","lo":60,"hi":290},{"s":"0.5-0.7µm","d":"2020-07-20","lo":40,"hi":250},{"s":"total","d":"2020-08-02","lo":60,"hi":950},{"s":"0.5-0.7µm","d":"2020-08-02","lo":40,"hi":800},{"s":"0.7-1.0µm","d":"2020-08-02","lo":30,"hi":780},{"s":"0.5-0.7µm","d":"2020-08-07","lo":40,"hi":810},{"s":"total","d":"2020-08-18","lo":150,"hi":990},{"s":"0.0-0.5µm","d":"2020-08-18","lo":100,"hi":900},{"s":"0.0-0.5µm","d":"2020-09-23","lo":90,"hi":610},{"s":"0.5-0.7µm","d":"2020-09-23","lo":60,"hi":500},{"s":"total","d":"2020-10-30","lo":250,"hi":980},{"s":"0.5-0.7µm","d":"2020-10-30","lo":125,"hi":950},{"s":"total","d":"2020-11-17","lo":260,"hi":750},{"s":"total","d":"2020-11-27","lo":360,"hi":820},{"s":"0.0-0.5µm","d":"2020-12-22","lo":350,"hi":950},{"s":"1.0-1.5µm","d":"2020-12-22","lo":50,"hi":700},{"s":"0.7-1.0µm","d":"2020-12-22","lo":60,"hi":990},{"s":"2.0-µm","d":"2020-12-23","lo":12,"hi":400},{"s":"total","d":"2020-12-25","lo":570,"hi":900},{"s":"total","d":"2021-01-08","lo":500,"hi":680},{"s":"total","d":"2021-01-25","lo":400,"hi":950},{"s":"0.5-0.7µm","d":"2021-01-25","lo":230,"hi":700},{"s":"total","d":"2021-02-04","lo":360,"hi":900},{"s":"total","d":"2021-02-17","lo":290,"hi":950},{"s":"0.0-0.5µm","d":"2021-02-17","lo":200,"hi":700},{"s":"total","d":"2021-03-03","lo":230,"hi":950},{"s":"total","d":"2021-03-22","lo":200,"hi":865},{"s":"0.5-0.7µm","d":"2021-03-22","lo":120,"hi":640},{"s":"0.5-0.7µm","d":"2021-05-13","lo":135,"hi":893},{"s":"0.0-0.5µm","d":"2021-05-13","lo":200,"hi":600},{"s":"total","d":"2021-05-16","lo":250,"hi":720},{"s":"total","d":"2021-06-06","lo":290,"hi":760},{"s":"total","d":"2021-06-24","lo":260,"hi":990},{"s":"0.0-0.5µm","d":"2021-07-02","lo":200,"hi":865},{"s":"0.5-0.7µm","d":"2021-07-02","lo":90,"hi":500},{"s":"total","d":"2021-07-07","lo":200,"hi":470},{"s":"0.0-0.5µm","d":"2021-07-19","lo":200,"hi":800},{"s":"0.7-1.0µm","d":"2021-07-19","lo":40,"hi":500},{"s":"2.0-µm","d":"2021-07-19","lo":12,"hi":865},{"s":"0.5-0.7µm","d":"2021-09-21","lo":76,"hi":330},{"s":"total","d":"2021-09-30","lo":127,"hi":920},{"s":"0.0-0.5µm","d":"2021-10-15","lo":118,"hi":583},{"s":"0.5-0.7µm","d":"2021-10-15","lo":76,"hi":500}
]
},
"vconcat":[
{
 "width":501,"height":113,
 "data":{"name":"temp"},
 "mark":{"type":"line","strokeWidth":1.6,"interpolate":"monotone","invalid":"break-paths-show-domains"},
 "encoding":{
  "x":{"field":"d","type":"temporal","scale":{"type":"utc","domain":[{"year":2020,"month":7,"date":15,"utc":true},{"year":2022,"month":1,"date":2,"utc":true}]},"axis":{"title":null,"labels":false,"grid":false,"tickSize":-3,"values":[{"year":2020,"month":9,"date":1,"utc":true},{"year":2020,"month":11,"date":1,"utc":true},{"year":2021,"month":1,"date":1,"utc":true},{"year":2021,"month":3,"date":1,"utc":true},{"year":2021,"month":5,"date":1,"utc":true},{"year":2021,"month":7,"date":1,"utc":true},{"year":2021,"month":9,"date":1,"utc":true},{"year":2021,"month":11,"date":1,"utc":true}]}},
  "y":{"field":"v","type":"quantitative","scale":{"domain":[13.2,13.81],"nice":false,"zero":false},"axis":{"title":"Tank temperature °C","values":[13.2,13.3,13.4,13.5,13.6,13.7,13.8],"format":".1f","labelFontSize":5,"titleFontSize":5,"grid":false,"tickSize":-3,"labelPadding":5,"minExtent":16,"maxExtent":16,"titlePadding":3.5}},
  "color":{"field":"ch","type":"nominal","scale":{"domain":["CH16:Z=+15m","CH15:Z=+13m","CH14:Z=+11m","CH13:Z=+9m","CH12:Z=+7m","CH11:Z=+5m","CH10:Z=+3m","CH9:Z=+1m","CH8:Z=-1m","CH7:Z=-3m","CH6:Z=-5m","CH5:Z=-7m","CH4:Z=-9m","CH3:Z=-11m","CH2:Z=-13m","CH1:Z=-15m"],"range":["#9400d3","#009e73","#56b4e9","#e69f00","#f0e442","#0072b2","#e51e10","#000000","#9400d3","#009e73","#56b4e9","#e69f00","#f0e442","#0072b2","#e51e10","#000000"]},
   "legend":{"title":null,"orient":"none","legendX":486,"legendY":2,"labelFontSize":5,"symbolSize":3,"rowPadding":-0.77,"labelOffset":-10.5}}
 }
},
{
 "width":501,"height":118,
 "data":{"name":"dark"},
 "mark":{"type":"point","filled":true,"size":5,"opacity":0.9},
 "encoding":{
  "x":{"field":"d","type":"temporal","scale":{"type":"utc","domain":[{"year":2020,"month":7,"date":15,"utc":true},{"year":2022,"month":1,"date":2,"utc":true}]},"axis":{"title":null,"labels":false,"grid":true,"tickSize":-4,"values":[{"year":2020,"month":9,"date":1,"utc":true},{"year":2020,"month":11,"date":1,"utc":true},{"year":2021,"month":1,"date":1,"utc":true},{"year":2021,"month":3,"date":1,"utc":true},{"year":2021,"month":5,"date":1,"utc":true},{"year":2021,"month":7,"date":1,"utc":true},{"year":2021,"month":9,"date":1,"utc":true},{"year":2021,"month":11,"date":1,"utc":true}]}},
  "y":{"field":"r","type":"quantitative","scale":{"domain":[6,7],"nice":false,"zero":false},"axis":{"title":"dark rate [kHz]","values":[6,6.2,6.4,6.6,6.8,7],"format":"~g","tickSize":-4,"labelPadding":10,"minExtent":24,"maxExtent":24,"titlePadding":5.5}},
  "color":{"datum":"Average Dark rate","type":"nominal","scale":{"range":["#e51e10"]},"legend":{"title":null,"orient":"none","legendX":468,"legendY":5,"symbolSize":6,"labelOffset":-17}}
 }
},
{
 "width":501,"height":120,
 "encoding":{
  "x":{"field":"d","type":"temporal","scale":{"type":"utc","domain":[{"year":2020,"month":7,"date":15,"utc":true},{"year":2022,"month":1,"date":2,"utc":true}]},"axis":{"title":null,"labels":false,"grid":true,"tickSize":-4,"values":[{"year":2020,"month":9,"date":1,"utc":true},{"year":2020,"month":11,"date":1,"utc":true},{"year":2021,"month":1,"date":1,"utc":true},{"year":2021,"month":3,"date":1,"utc":true},{"year":2021,"month":5,"date":1,"utc":true},{"year":2021,"month":7,"date":1,"utc":true},{"year":2021,"month":9,"date":1,"utc":true},{"year":2021,"month":11,"date":1,"utc":true}]}},
  "y":{"field":"hi","type":"quantitative","scale":{"domain":[0,1000],"nice":false},"axis":{"title":"Return counts/mL","values":[0,200,400,600,800,1000],"format":"d","labelOverlap":false,"tickSize":-4,"labelPadding":10,"minExtent":30,"maxExtent":30,"titlePadding":5.5}},
  "y2":{"field":"lo"},
  "color":{"field":"s","type":"nominal","scale":{"domain":["total","0.0-0.5µm","0.5-0.7µm","0.7-1.0µm","1.0-1.5µm","1.5-2.0µm","2.0-µm"],"range":["#9400d3","#009e73","#56b4e9","#e69f00","#f0e442","#0072b2","#e51e10"]},"legend":{"title":null,"orient":"none","legendX":474,"legendY":7,"symbolSize":6,"rowPadding":2.5,"labelOffset":-23.5}}
 },
 "layer":[
  {"data":{"name":"ret"},
   "mark":{"type":"area","clip":true,"interpolate":"linear"},
   "encoding":{"detail":{"field":"g"}}},
  {"data":{"name":"retSpk"},
   "mark":{"type":"rule","clip":true,"strokeDash":[1,2],"strokeWidth":1.3,"opacity":0.8}}
 ]
},
{
 "width":501,"height":118,
 "encoding":{
  "x":{"field":"d","type":"temporal","scale":{"type":"utc","domain":[{"year":2020,"month":7,"date":15,"utc":true},{"year":2022,"month":1,"date":2,"utc":true}]},"axis":{"title":null,"grid":true,"tickSize":-4,"labelPadding":8.5,"labelFlush":false,"labelOverlap":false,"format":"%m/%d/%y","values":[{"year":2020,"month":9,"date":1,"utc":true},{"year":2020,"month":11,"date":1,"utc":true},{"year":2021,"month":1,"date":1,"utc":true},{"year":2021,"month":3,"date":1,"utc":true},{"year":2021,"month":5,"date":1,"utc":true},{"year":2021,"month":7,"date":1,"utc":true},{"year":2021,"month":9,"date":1,"utc":true},{"year":2021,"month":11,"date":1,"utc":true},{"year":2022,"month":1,"date":1,"utc":true}]}},
  "y":{"field":"hi","type":"quantitative","scale":{"domain":[0,1000],"nice":false},"axis":{"title":"Supply counts/mL","values":[0,200,400,600,800,1000],"format":"d","labelOverlap":false,"tickSize":-4,"labelPadding":10,"minExtent":30,"maxExtent":30,"titlePadding":5.5}},
  "y2":{"field":"lo"},
  "color":{"field":"s","type":"nominal","scale":{"domain":["total","0.0-0.5µm","0.5-0.7µm","0.7-1.0µm","1.0-1.5µm","1.5-2.0µm","2.0-µm"],"range":["#9400d3","#009e73","#56b4e9","#e69f00","#f0e442","#0072b2","#e51e10"]},"legend":{"title":null,"orient":"none","legendX":473,"legendY":5,"symbolSize":6,"rowPadding":2.5,"labelOffset":-22.5}}
 },
 "layer":[
  {"data":{"name":"sup"},
   "mark":{"type":"area","clip":true,"interpolate":"linear"},
   "encoding":{"detail":{"field":"g"}}},
  {"data":{"name":"supSpk"},
   "mark":{"type":"rule","clip":true,"strokeDash":[1,2],"strokeWidth":1.3,"opacity":0.8}}
 ]
}
],
"spacing":8,
"bounds":"flush",
"resolve":{"scale":{"color":"independent","y":"independent"},"legend":{"color":"independent"}}
}
